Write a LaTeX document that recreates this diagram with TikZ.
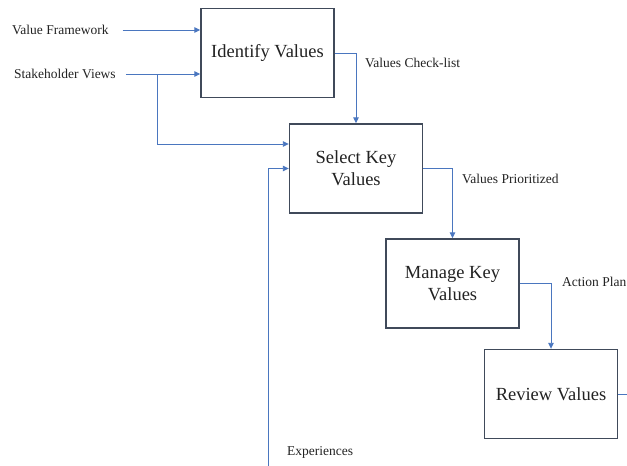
\documentclass[tikz,border=0pt]{standalone}
\usepackage{fontspec}
\setmainfont{Liberation Serif}
\usetikzlibrary{arrows.meta}
\definecolor{linkblue}{HTML}{4A76BF}
\definecolor{boxline}{HTML}{404A5A}
\definecolor{txt}{HTML}{222222}
\tikzset{
  stepbox/.style={draw=boxline, line width=1.4pt, minimum width=133pt, minimum height=89pt,
    align=center, text=txt, font=\fontsize{18.5}{22}\selectfont, inner sep=2pt},
  lbl/.style={anchor=west, inner sep=0pt, text=txt, font=\fontsize{13.5}{16}\selectfont},
  link/.style={draw=linkblue, line width=0.9pt},
  arr/.style={link, -{Triangle[length=6pt,width=5.5pt]}}
}
\begin{document}
\begin{tikzpicture}[x=1pt,y=-1pt]
\useasboundingbox (0,0) rectangle (627,466);
% boxes
\node[stepbox] (id) at (267.5,53) {Identify Values};
\node[stepbox] (sk) at (356,168.5) {Select Key\\Values};
\node[stepbox] (mk) at (452.5,283.5) {Manage Key\\Values};
\node[stepbox] (rv) at (551,394) {Review Values};
% labels
\node[lbl] (vf) at (12,30) {Value Framework};
\node[lbl] (sv) at (14,74) {Stakeholder Views};
\node[lbl] (vcl) at (365,63) {Values Check-list};
\node[lbl] (vp) at (462,179) {Values Prioritized};
\node[lbl] (ap) at (562,282) {Action Plan};
\node[lbl] (ex) at (287,452) {Experiences};
\coordinate (exbot) at (268,466);
\coordinate (rvout) at (627,394);
% connectors
\draw[arr, shorten <=14pt] (vf.east) -- (vf.east -| id.west);
\draw[arr, shorten <=10pt] (sv.east) -- (sv.east -| id.west);
\draw[arr] ([xshift=42pt]sv.east) |- ([yshift=24.5pt]sk.west);
\draw[arr] (exbot) |- (sk.west);
\draw[arr] (id.east) -| (sk.north);
\draw[arr] (sk.east) -| (mk.north);
\draw[arr] (mk.east) -| (rv.north);
\draw[link] (rv.east) -- (rvout);
\end{tikzpicture}
\end{document}
